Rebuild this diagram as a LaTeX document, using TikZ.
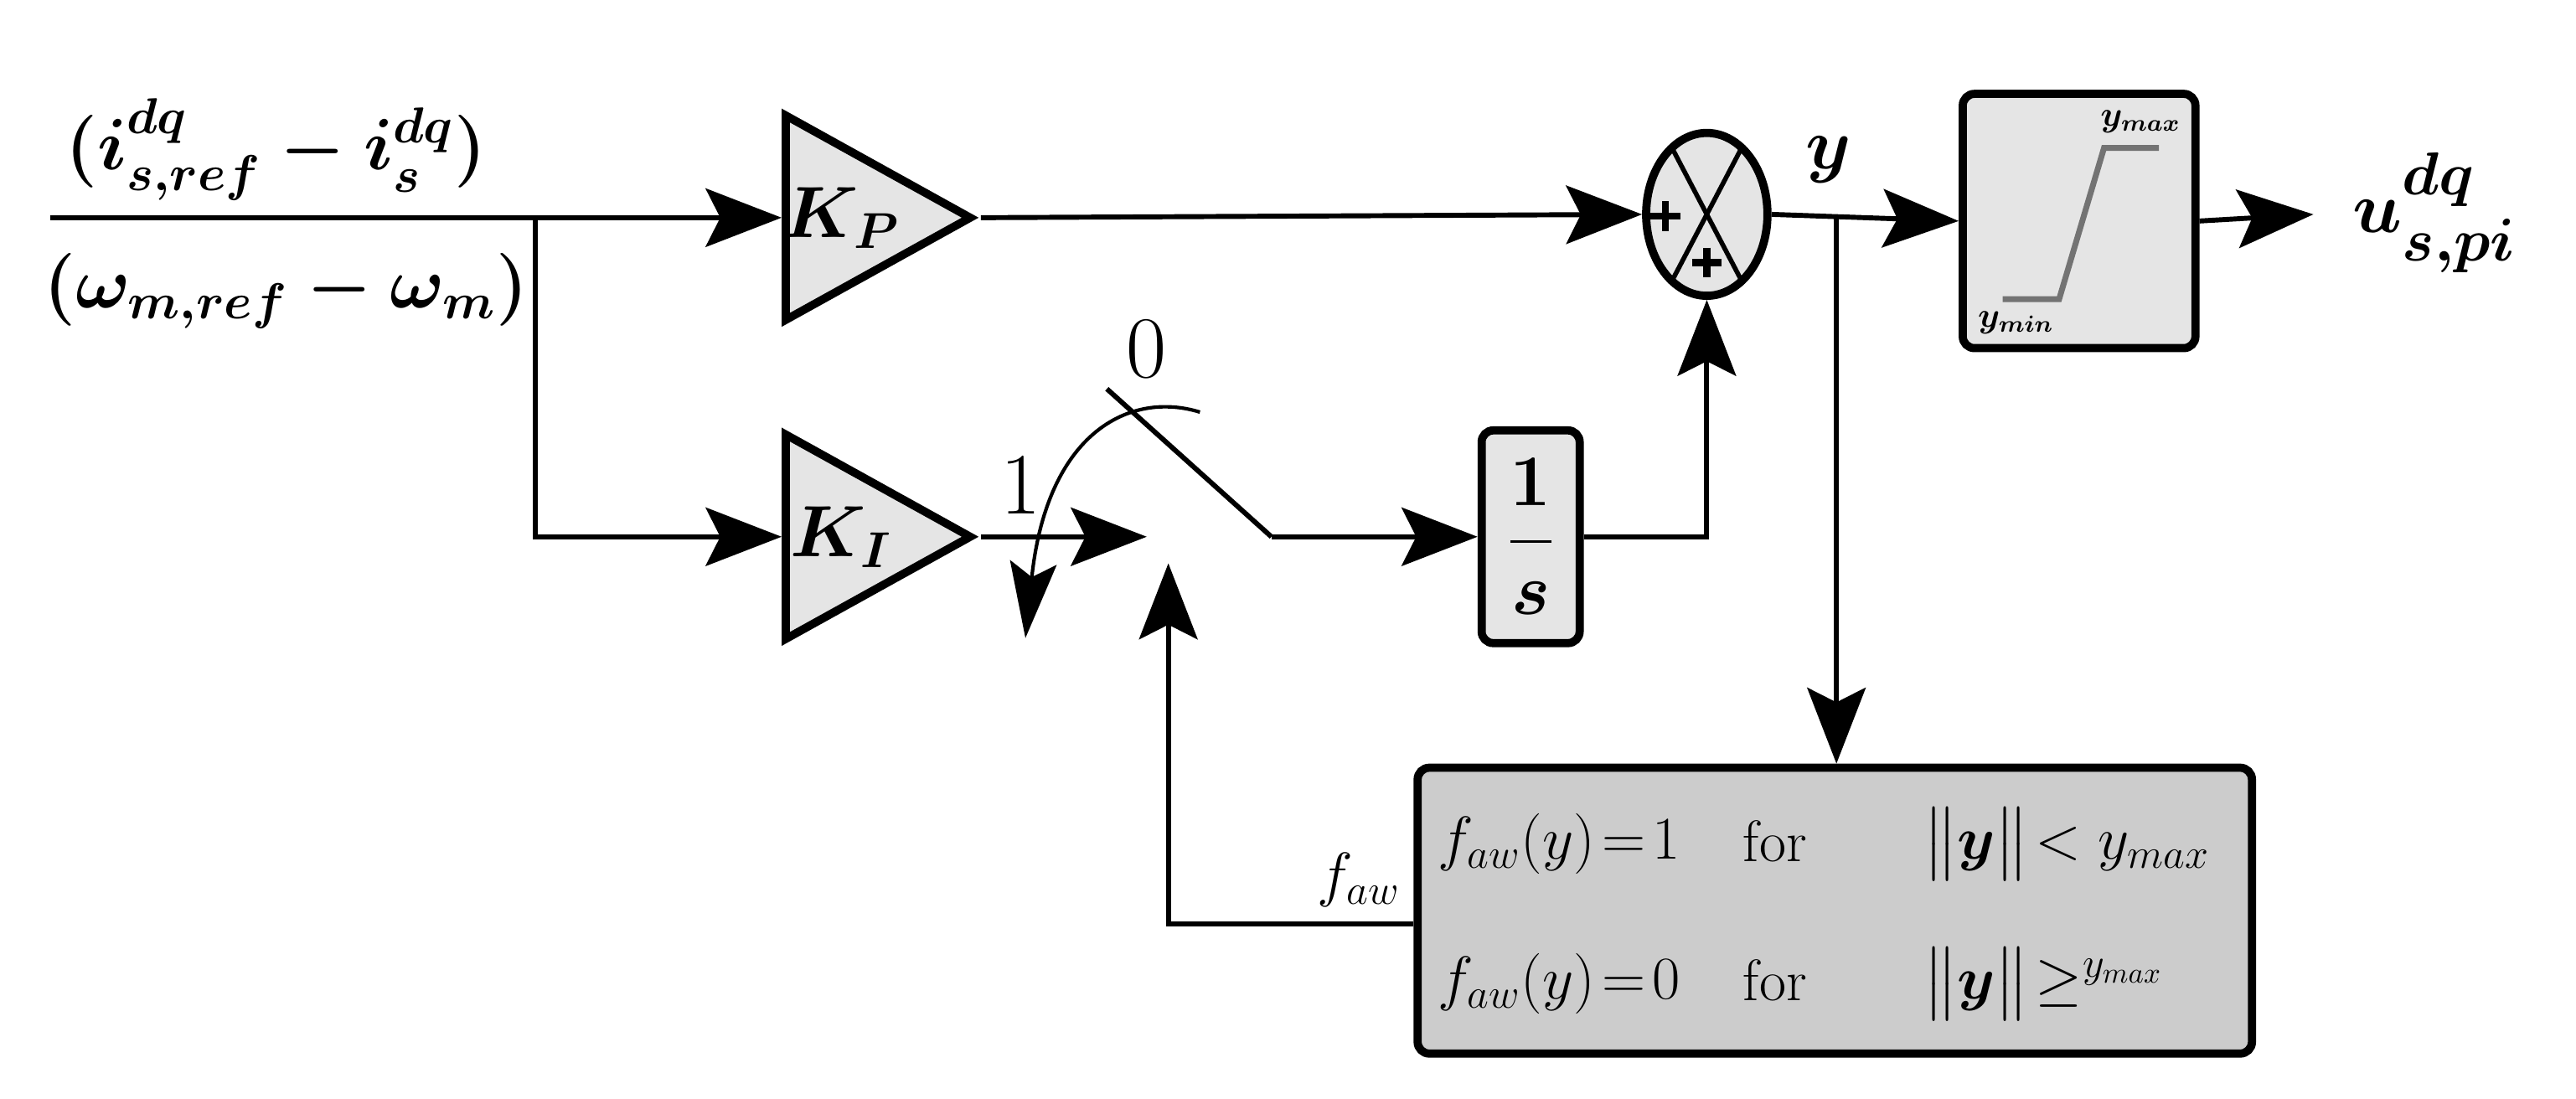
\documentclass[tikz,border=0pt]{standalone}
\usepackage{amsmath}
\usepackage{bm}
\usetikzlibrary{arrows.meta,shapes,calc,positioning}

\begin{document}
\begin{tikzpicture}[x=0.2mm,y=-0.2mm,line width=1.7pt,
  sig/.style={-{Stealth[length=26pt,width=20pt,inset=5pt]}},
  gain/.style={draw,line width=2.8pt,fill=black!10,isosceles triangle,
    isosceles triangle stretches,minimum height=22.2mm,minimum width=24.6mm,inner sep=0pt},
  blk/.style={draw,line width=2.8pt,fill=black!10,rounded corners=4pt,inner sep=0pt},
  big/.style={font=\fontsize{26}{28}\selectfont\boldmath},
  txt/.style={font=\fontsize{20}{22}\selectfont}]
  \useasboundingbox (0,0) rectangle (1550,661);

  % gains
  \node[gain] (kp) at (509,131) {};
  \node[gain] (ki) at (509,323) {};
  \node[big] at ($(kp.west)!0.3!(kp.apex)$) {$\bm{K_P}$};
  \node[big] at ($(ki.west)!0.3!(ki.apex)$) {$\bm{K_I}$};

  % sum, integrator, limiter, anti windup
  \node[draw,line width=2.8pt,fill=black!10,ellipse,minimum width=14.6mm,minimum height=19.6mm] (sum) at (1027,129) {};
  \node[blk,minimum width=11.8mm,minimum height=25.6mm,big] (int) at (921,323) {$\dfrac{\bm 1}{\bm s}$};
  \node[blk,minimum width=28mm,minimum height=30.6mm] (sat) at (1251,133) {};
  \node[blk,fill=black!20,minimum width=100.4mm,minimum height=34.4mm] (aw) at (1104,548) {};

  % sum details
  \draw[line width=1.6pt] ($(sum.center)+(-22,-42)$) -- ($(sum.center)+(22,42)$);
  \draw[line width=1.6pt] ($(sum.center)+(22,-42)$) -- ($(sum.center)+(-22,42)$);
  \draw[line width=2.4pt] ($(sum.center)+(-34,1)$) -- ($(sum.center)+(-16,1)$)
    ($(sum.center)+(-25,-8)$) -- ($(sum.center)+(-25,10)$);
  \draw[line width=2.4pt] ($(sum.center)+(-9,29)$) -- ($(sum.center)+(9,29)$)
    ($(sum.center)+(0,20)$) -- ($(sum.center)+(0,38)$);

  % limiter curve
  \draw[black!55,line width=2pt] (1205,180) -- (1239,180) -- (1266,89) -- (1299,89);
  \node[font=\large\boldmath] at (1213,194) {$y_{min}$};
  \node[font=\large\boldmath] at (1288,73) {$y_{max}$};

  % anti windup text
  \node[txt,anchor=west] at (858,508) {$f_{aw}(y)\!=\!1$};
  \node[txt,anchor=west] at (858,592) {$f_{aw}(y)\!=\!0$};
  \node[txt] at (1068,506) {for};
  \node[txt] at (1068,590) {for};
  \node[txt,anchor=west] at (1150,508) {$\big\|\bm y\big\|\!<y_{max}$};
  \node[txt,anchor=west] at (1150,592) {$\big\|\bm y\big\|\!\geq^{y_{max}}$};

  % coordinates
  \coordinate (in) at (30,131);
  \coordinate (br) at (322,131);
  \coordinate (sw1) at (690,323);
  \coordinate (swp) at (765,323);
  \coordinate (swt) at (666,234);
  \coordinate (yb) at (1105,129);
  \coordinate (out) at (1392,129);
  \coordinate (awt) at (703,339);

  % signals
  \draw (in) -- (br);
  \draw[sig] (br) -- (kp.west);
  \draw[sig] (br) |- (ki.west);
  \draw[sig] (kp.apex) -- (sum.west);
  \draw[sig] (ki.apex) -- (sw1);
  \draw (swt) -- (swp);
  \draw[sig] (swp) -- (int.west);
  \draw[sig] (int.east) -| (sum.south);
  \draw[sig] (sum.east) -- (sat.west);
  \draw[sig] (sat.east) -- (out);
  \draw[sig] (yb) -- (yb |- aw.north);
  \draw[sig] (aw.west |- 0,556) -| (awt);
  \draw[line width=1.2pt,{Stealth[length=26pt,width=16pt,inset=5pt]}-] (617,384) .. controls (630,260) and (680,235) .. (722,248);

  % labels
  \node[font=\fontsize{24}{26}\selectfont\boldmath] at (166,90) {$(\bm{i}^{dq}_{s,ref}-\bm{i}^{dq}_{s})$};
  \node[font=\fontsize{24}{26}\selectfont\boldmath] at (172,175) {$(\omega_{m,ref}-\omega_m)$};
  \node[font=\fontsize{30}{32}\selectfont] at (614,292) {1};
  \node[font=\fontsize{30}{32}\selectfont] at (690,210) {0};
  \node[big] at (1100,96) {$\bm y$};
  \node[font=\fontsize{32}{34}\selectfont\boldmath] at (1465,128) {$\bm{u}^{dq}_{s,pi}$};
  \node[txt,anchor=south east] at (850,553) {$f_{aw}$};
\end{tikzpicture}
\end{document}
